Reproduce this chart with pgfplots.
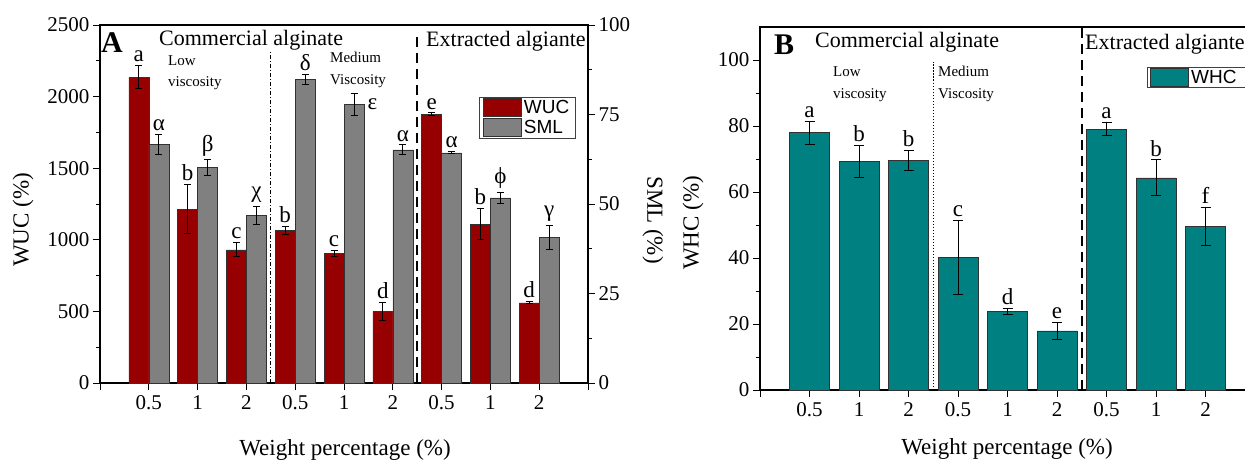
\documentclass[border=0pt]{standalone}
\usepackage{fontspec}
\setmainfont{Liberation Serif}
\setsansfont{Liberation Sans}
\usepackage{pgfplots}
\usepackage{pgfplotstable}
\pgfplotsset{compat=1.18}

\definecolor{wuc}{RGB}{150,0,0}
\definecolor{sml}{RGB}{128,128,128}
\definecolor{whc}{RGB}{0,128,128}
\definecolor{edge}{RGB}{50,50,50}

% WUC (%), left axis of panel A
\pgfplotstableread{
x y e lab
0 2135 80 a
1 1215 170 b
2 930 50 c
3 1065 30 b
4 905 20 c
5 500 65 d
6 1878 8 e
7 1110 108 b
8 560 8 d
}\wuctab

% SML (%), right axis of panel A
\pgfplotstableread{
x y e lab
0 66.7 2.8 α
1 60.2 2.1 β
2 46.8 2.6 χ
3 84.8 1.3 δ
4 77.8 3.2 ε
5 65.1 1.4 α
6 64.3 0.3 α
7 51.7 1.6 ϕ
8 40.6 3.4 γ
}\smltab

% WHC (%), panel B
\pgfplotstableread{
x y e lab
0 78.0 3.5 a
1 69.3 4.8 b
2 69.6 3.0 b
3 40.2 11.3 c
4 23.8 0.8 d
5 17.9 2.6 e
6 79.0 2.0 a
7 64.3 5.4 b
8 49.5 5.8 f
}\whctab

\pgfplotsset{
  base/.style={
    scale only axis, anchor=south west, xmin=-1, xmax=9, clip=false,
    tick align=outside, major tick length=7pt, minor tick length=4pt,
    tick style={black, line width=1pt},
    axis line style={black, line width=1.2pt},
    ticklabel style={font=\fontsize{21}{23}\selectfont},
    xticklabel style={yshift=-2pt},
    /pgf/number format/assume math mode=true,
    scaled y ticks=false, /pgf/number format/1000 sep={},
    legend style={draw=black!75, line width=0.8pt,
      font=\sffamily\fontsize{19}{21}\selectfont,
      inner xsep=3pt, inner ysep=1pt, row sep=1pt,
      /tikz/every even column/.append style={column sep=3pt}},
    legend cell align=left,
  },
  boxlegend/.style={legend image code/.code={\draw[##1] (0pt,-9pt) rectangle (38pt,9pt);}},
  labs/.style 2 args={draw=none, mark=none, forget plot, nodes near coords,
    point meta=explicit symbolic,
    nodes near coords style={font=\fontsize{23}{25}\selectfont,
      anchor=#2, xshift=#1, inner sep=3.5pt, text=black}},
  errs/.style 2 args={error bars/.cd, y dir=both, y explicit,
    error bar style={black, line width=1pt, xshift=#2},
    error mark options={xshift=#2, rotate=90, black, line width=1pt, mark size=#1}},
}

\begin{document}
\begin{tikzpicture}[x=1pt,y=1pt]
% ---------------- Panel A, WUC ----------------
\begin{axis}[base, at={(100pt,76pt)}, width=488pt, height=358pt,
  ymin=0, ymax=2500, tick pos=left,
  xtick={-1,0,...,9}, xticklabels={,0.5,1,2,0.5,1,2,0.5,1,2,},
  ytick={0,500,...,2500}, minor ytick={250,750,...,2250}]
\addplot[ybar, bar width=20pt, bar shift=-10pt, fill=wuc, draw=edge,
  line width=0.6pt, errs={3.5pt}{-10pt}] table[x=x,y=y,y error=e]{\wuctab};
\addplot[labs={-10pt}{south}] table[x=x, y expr=\thisrow{y}+\thisrow{e}, meta=lab]{\wuctab};
\draw[black, line width=0.8pt, dash pattern=on 4pt off 2pt on 1pt off 2pt]
  (axis cs:2.5,0) -- (axis cs:2.5,2311);
\draw[black, line width=2pt, dash pattern=on 10pt off 6pt]
  (axis cs:5.5,0) -- (axis cs:5.5,2451);
\end{axis}
% ---------------- Panel A, SML ----------------
\begin{axis}[base, at={(100pt,76pt)}, width=488pt, height=358pt,
  ymin=0, ymax=100, axis y line*=right, axis x line=none,
  ytick={0,25,50,75,100}, minor ytick={12.5,37.5,62.5,87.5},
  legend style={at={(0.7766,0.7989)}, anchor=north west, inner xsep=4pt}]
\addlegendimage{boxlegend, fill=wuc, draw=edge, line width=0.6pt}
\addlegendentry{WUC}
\addplot[ybar, bar width=20pt, bar shift=10pt, fill=sml, draw=edge,
  line width=0.6pt, boxlegend, errs={3.5pt}{10pt}]
  table[x=x,y=y,y error=e]{\smltab};
\addlegendentry{SML}
\addplot[labs={10pt}{south}, x filter/.expression={x==4 ? nan : x}]
  table[x=x, y expr=\thisrow{y}+\thisrow{e}, meta=lab]{\smltab};
\addplot[labs={20pt}{west}, x filter/.expression={x==4 ? x : nan}]
  table[x=x, y=y, meta=lab]{\smltab};
\end{axis}
% ---------------- Panel B, WHC ----------------
\begin{axis}[base, at={(760pt,69pt)}, width=495pt, height=363pt,
  ymin=0, ymax=110, tick pos=left,
  xtick={-1,0,...,9}, xticklabels={,0.5,1,2,0.5,1,2,0.5,1,2,},
  ytick={0,20,...,100}, minor ytick={10,30,...,90},
  legend style={at={(0.782,0.8906)}, anchor=north west}]
\addplot[ybar, bar width=40pt, bar shift=0pt, fill=whc, draw=edge,
  line width=0.6pt, boxlegend, errs={5pt}{0pt}]
  table[x=x,y=y,y error=e]{\whctab};
\addlegendentry{WHC\rule{18pt}{0pt}}
\addplot[labs={0pt}{south}] table[x=x, y expr=\thisrow{y}+\thisrow{e}, meta=lab]{\whctab};
\draw[black, line width=0.8pt, dash pattern=on 1.5pt off 1.5pt]
  (axis cs:2.5,0) -- (axis cs:2.5,99.4);
\draw[black, line width=2pt, dash pattern=on 10pt off 6pt]
  (axis cs:5.5,0) -- (axis cs:5.5,110);
\end{axis}

% ---------------- Texts ----------------
\begin{scope}[every node/.style={inner sep=0pt, text=black}]
\node[anchor=base west, font=\bfseries\fontsize{30}{30}\selectfont] at (101,406) {A};
\node[anchor=base west, font=\fontsize{22}{24}\selectfont] at (159,413) {Commercial alginate};
\node[anchor=base west, font=\fontsize{15}{17}\selectfont] at (168,393) {Low};
\node[anchor=base west, font=\fontsize{15}{17}\selectfont] at (168,373) {viscosity};
\node[anchor=base west, font=\fontsize{15}{17}\selectfont] at (330,396) {Medium};
\node[anchor=base west, font=\fontsize{15}{17}\selectfont] at (330,374) {Viscosity};
\node[anchor=base west, font=\fontsize{22}{24}\selectfont] at (426,412.5) {Extracted algiante};
\node[rotate=90, font=\fontsize{23}{25}\selectfont] at (23,239) {WUC (\%)};
\node[rotate=-90, font=\fontsize{23}{25}\selectfont] at (653,239) {SML (\%)};
\node[anchor=base, font=\fontsize{23}{25}\selectfont] at (345,4) {Weight percentage (\%)};

\node[anchor=base west, font=\bfseries\fontsize{30}{30}\selectfont] at (774,404) {B};
\node[anchor=base west, font=\fontsize{22}{24}\selectfont] at (815,411) {Commercial alginate};
\node[anchor=base west, font=\fontsize{15}{17}\selectfont] at (833,382) {Low};
\node[anchor=base west, font=\fontsize{15}{17}\selectfont] at (833,361) {viscosity};
\node[anchor=base west, font=\fontsize{15}{17}\selectfont] at (938,382) {Medium};
\node[anchor=base west, font=\fontsize{15}{17}\selectfont] at (938,361) {Viscosity};
\node[anchor=base west, font=\fontsize{22}{24}\selectfont] at (1085,409) {Extracted algiante};
\node[rotate=90, font=\fontsize{23}{25}\selectfont] at (693,236) {WHC (\%)};
\node[anchor=base, font=\fontsize{23}{25}\selectfont] at (1007,4.5) {Weight percentage (\%)};
\end{scope}

\pgfresetboundingbox
\path[use as bounding box] (0,0) rectangle (1245,459);
\end{tikzpicture}
\end{document}
